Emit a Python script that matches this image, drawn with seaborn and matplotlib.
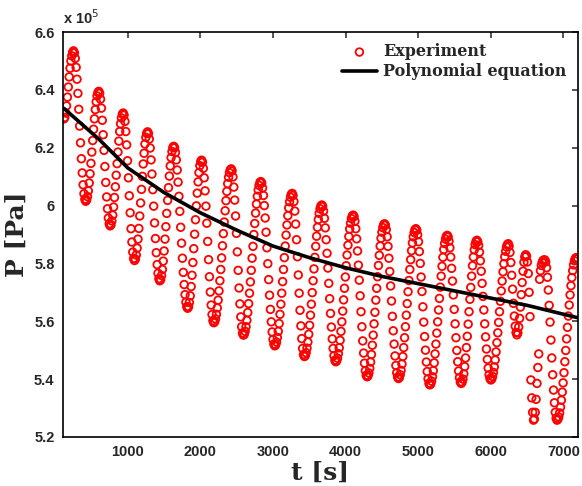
import numpy as np
import pandas as pd
import matplotlib
matplotlib.use("Agg")
import matplotlib.pyplot as plt
import seaborn as sns
from matplotlib.ticker import FuncFormatter

# ---------------- data (pressure in units of 1e5 Pa) ----------------
SAMPLE_START = 120   # s, first sample
SAMPLE_STEP = 12     # s, sampling interval

p_cycle00 = [6.300, 6.305, 6.320, 6.345, 6.375, 6.410, 6.445, 6.475, 6.500, 6.518, 6.530, 6.535,
             6.528, 6.509, 6.478, 6.437, 6.388, 6.333, 6.275, 6.217, 6.162, 6.113, 6.072, 6.041, 6.022, 6.015]
p_cycle01 = [6.019, 6.031, 6.051, 6.078, 6.110, 6.146, 6.185, 6.225, 6.264, 6.300, 6.332, 6.359, 6.379, 6.391, 6.395,
             6.388, 6.368, 6.337, 6.295, 6.245, 6.191, 6.135, 6.080, 6.030, 5.989, 5.957, 5.937, 5.930]
p_cycle02 = [5.934, 5.947, 5.967, 5.995, 6.028, 6.065, 6.105, 6.145, 6.185, 6.223, 6.256, 6.283, 6.303, 6.316, 6.320,
             6.313, 6.291, 6.256, 6.210, 6.155, 6.096, 6.034, 5.975, 5.920, 5.874, 5.839, 5.817, 5.810]
p_cycle03 = [5.815, 5.829, 5.853, 5.884, 5.921, 5.964, 6.009, 6.056, 6.101, 6.144, 6.181, 6.213, 6.236, 6.250, 6.255,
             6.249, 6.230, 6.199, 6.158, 6.109, 6.055, 5.998, 5.940, 5.886, 5.837, 5.796, 5.766, 5.747, 5.740]
p_cycle04 = [5.744, 5.758, 5.779, 5.808, 5.843, 5.884, 5.927, 5.973, 6.018, 6.062, 6.102, 6.137, 6.166, 6.187, 6.201, 6.205,
             6.200, 6.184, 6.158, 6.123, 6.081, 6.032, 5.980, 5.925, 5.870, 5.818, 5.769, 5.727, 5.692, 5.666, 5.650, 5.645]
p_cycle05 = [5.650, 5.665, 5.688, 5.720, 5.759, 5.803, 5.851, 5.901, 5.951, 5.999, 6.043, 6.082, 6.114, 6.138, 6.152, 6.157,
             6.150, 6.129, 6.096, 6.051, 5.998, 5.939, 5.876, 5.813, 5.754, 5.701, 5.656, 5.623, 5.602, 5.595]
p_cycle06 = [5.598, 5.608, 5.624, 5.646, 5.673, 5.705, 5.740, 5.779, 5.819, 5.861, 5.903, 5.943, 5.982, 6.017, 6.049,
             6.076, 6.098, 6.114, 6.124, 6.127,
             6.120, 6.099, 6.064, 6.019, 5.964, 5.904, 5.840, 5.776, 5.715, 5.660, 5.615, 5.581, 5.559, 5.552]
p_cycle07 = [5.555, 5.565, 5.581, 5.603, 5.630, 5.661, 5.697, 5.736, 5.776, 5.818, 5.859, 5.900, 5.938, 5.974, 6.005,
             6.032, 6.054, 6.070, 6.080, 6.083,
             6.078, 6.061, 6.035, 6.000, 5.957, 5.908, 5.854, 5.799, 5.744, 5.690, 5.641, 5.598, 5.563, 5.537, 5.521, 5.515]
p_cycle08 = [5.518, 5.528, 5.544, 5.565, 5.592, 5.624, 5.659, 5.697, 5.737, 5.779, 5.820, 5.860, 5.898, 5.933, 5.965,
             5.992, 6.013, 6.029, 6.039, 6.042,
             6.035, 6.014, 5.981, 5.936, 5.882, 5.823, 5.760, 5.697, 5.638, 5.584, 5.540, 5.506, 5.485, 5.478]
p_cycle09 = [5.481, 5.491, 5.507, 5.528, 5.555, 5.586, 5.621, 5.659, 5.699, 5.740, 5.781, 5.821, 5.859, 5.894, 5.925,
             5.952, 5.973, 5.989, 5.999, 6.002,
             5.997, 5.981, 5.956, 5.923, 5.882, 5.835, 5.784, 5.731, 5.678, 5.627, 5.580, 5.539, 5.506, 5.481, 5.465, 5.460]
p_cycle10 = [5.463, 5.472, 5.488, 5.508, 5.534, 5.565, 5.598, 5.635, 5.674, 5.714, 5.753, 5.792, 5.829, 5.863, 5.893,
             5.919, 5.939, 5.955, 5.964, 5.967,
             5.962, 5.946, 5.920, 5.885, 5.843, 5.794, 5.742, 5.688, 5.633, 5.581, 5.532, 5.490, 5.455, 5.429, 5.413, 5.408]
p_cycle11 = [5.411, 5.421, 5.437, 5.459, 5.485, 5.517, 5.552, 5.591, 5.631, 5.673, 5.714, 5.754, 5.793, 5.828, 5.860,
             5.887, 5.908, 5.924, 5.934, 5.937,
             5.932, 5.917, 5.892, 5.859, 5.818, 5.772, 5.722, 5.670, 5.617, 5.567, 5.521, 5.480, 5.447, 5.422, 5.407, 5.402]
p_cycle12 = [5.405, 5.415, 5.430, 5.452, 5.478, 5.509, 5.543, 5.581, 5.621, 5.661, 5.702, 5.741, 5.779, 5.813, 5.844,
             5.871, 5.892, 5.907, 5.917, 5.920,
             5.915, 5.899, 5.875, 5.841, 5.800, 5.753, 5.703, 5.650, 5.597, 5.547, 5.500, 5.459, 5.426, 5.401, 5.385, 5.380]
p_cycle13 = [5.383, 5.393, 5.408, 5.429, 5.456, 5.487, 5.521, 5.559, 5.598, 5.639, 5.679, 5.718, 5.756, 5.790, 5.821,
             5.848, 5.869, 5.884, 5.894, 5.897,
             5.892, 5.877, 5.854, 5.822, 5.783, 5.739, 5.691, 5.641, 5.591, 5.543, 5.499, 5.460, 5.428, 5.405, 5.390, 5.385]
p_cycle14 = [5.389, 5.400, 5.418, 5.443, 5.473, 5.509, 5.548, 5.590, 5.633, 5.676, 5.717, 5.756, 5.792, 5.822, 5.847,
             5.865, 5.876, 5.880,
             5.875, 5.862, 5.839, 5.809, 5.773, 5.731, 5.686, 5.639, 5.591, 5.546, 5.504, 5.468, 5.438, 5.415, 5.402, 5.397]
p_cycle15 = [5.400, 5.409, 5.423, 5.442, 5.466, 5.494, 5.526, 5.560, 5.596, 5.633, 5.669, 5.705, 5.739, 5.771, 5.799,
             5.823, 5.842, 5.857, 5.865, 5.868,
             5.860, 5.838, 5.803, 5.759, 5.711, 5.662, 5.618, 5.583, 5.561, 5.553]
p_cycle16 = [5.560, 5.580, 5.610, 5.649, 5.692, 5.734, 5.773, 5.804, 5.823, 5.830,
             5.825, 5.805, 5.765, 5.700, 5.616, 5.397, 5.335, 5.285, 5.258]
p_cycle17 = [5.262, 5.285, 5.330, 5.385, 5.440, 5.487, 5.745, 5.775, 5.793, 5.804, 5.810, 5.812, 5.812,
             5.805, 5.785, 5.752, 5.708, 5.655, 5.597, 5.535, 5.473, 5.415, 5.362, 5.318, 5.285, 5.265, 5.258]
p_cycle18 = [5.261, 5.269, 5.283, 5.303, 5.327, 5.355, 5.387, 5.422, 5.460, 5.499, 5.539, 5.579, 5.618, 5.656, 5.691,
             5.723, 5.751, 5.775, 5.795, 5.809, 5.817, 5.820, 5.819, 5.816]

# polynomial fit curve
poly_t = [120, 600, 1000, 1500, 2000, 2500, 3000, 3500, 4000, 4500, 5000, 5500, 6000, 6500, 7200]
poly_p = [6.336, 6.230, 6.130, 6.045, 5.975, 5.915, 5.860, 5.820, 5.785, 5.755, 5.730, 5.705, 5.680, 5.655, 5.612]

x_ticks = [1000, 2000, 3000, 4000, 5000, 6000, 7000]
y_ticks = [5.2, 5.4, 5.6, 5.8, 6.0, 6.2, 6.4, 6.6]

# ---------------- build frame ----------------
cycles = [p_cycle00, p_cycle01, p_cycle02, p_cycle03, p_cycle04, p_cycle05, p_cycle06,
          p_cycle07, p_cycle08, p_cycle09, p_cycle10, p_cycle11, p_cycle12, p_cycle13,
          p_cycle14, p_cycle15, p_cycle16, p_cycle17, p_cycle18]
p_all = np.concatenate([np.asarray(c, dtype=float) for c in cycles])
t_all = SAMPLE_START + SAMPLE_STEP * np.arange(len(p_all))
exp_df = pd.DataFrame({"t": t_all, "P": p_all})
fit_df = pd.DataFrame({"t": poly_t, "P": poly_p})

# ---------------- style ----------------
sns.set_style("white")
plt.rcParams["font.family"] = ["Liberation Sans", "DejaVu Sans"]

fig = plt.figure(figsize=(5.82, 4.86), dpi=100)
ax = fig.add_axes([0.108, 0.101, 0.885, 0.833])

sns.scatterplot(data=exp_df, x="t", y="P", ax=ax, marker="o", s=30,
                facecolors="none", edgecolor="#ff0000", linewidth=1.3,
                label="Experiment", zorder=2)
sns.lineplot(data=fit_df, x="t", y="P", ax=ax, color="black", linewidth=2.6,
             label="Polynomial equation", zorder=3, sort=True)

ax.set_xlim(105, 7200)
ax.set_ylim(5.2, 6.6)
ax.set_xticks(x_ticks)
ax.set_yticks(y_ticks)
ax.yaxis.set_major_formatter(FuncFormatter(lambda v, _: f"{v:g}"))
ax.tick_params(direction="in", length=4, width=1.1, top=True, right=True,
               labelsize=10.5, pad=6)
for lab in ax.get_xticklabels() + ax.get_yticklabels():
    lab.set_fontweight("bold")
for sp in ax.spines.values():
    sp.set_linewidth(1.2)
    sp.set_color("black")

ax.set_xlabel("t [s]", fontsize=18, fontweight="bold", family="DejaVu Serif", labelpad=1)
ax.set_ylabel("P [Pa]", fontsize=18, fontweight="bold", family="DejaVu Serif", labelpad=4)
ax.text(0.0, 1.012, r"x 10$^{5}$", transform=ax.transAxes, fontsize=10.5,
        fontweight="bold", ha="left", va="bottom")

leg = ax.legend(loc="upper right", frameon=False, prop={"family": "DejaVu Serif", "weight": "bold", "size": 11.5},
                handlelength=2.2, handletextpad=0.4, labelspacing=0.2, borderaxespad=0.3)

fig.savefig("out.png", dpi=100)
